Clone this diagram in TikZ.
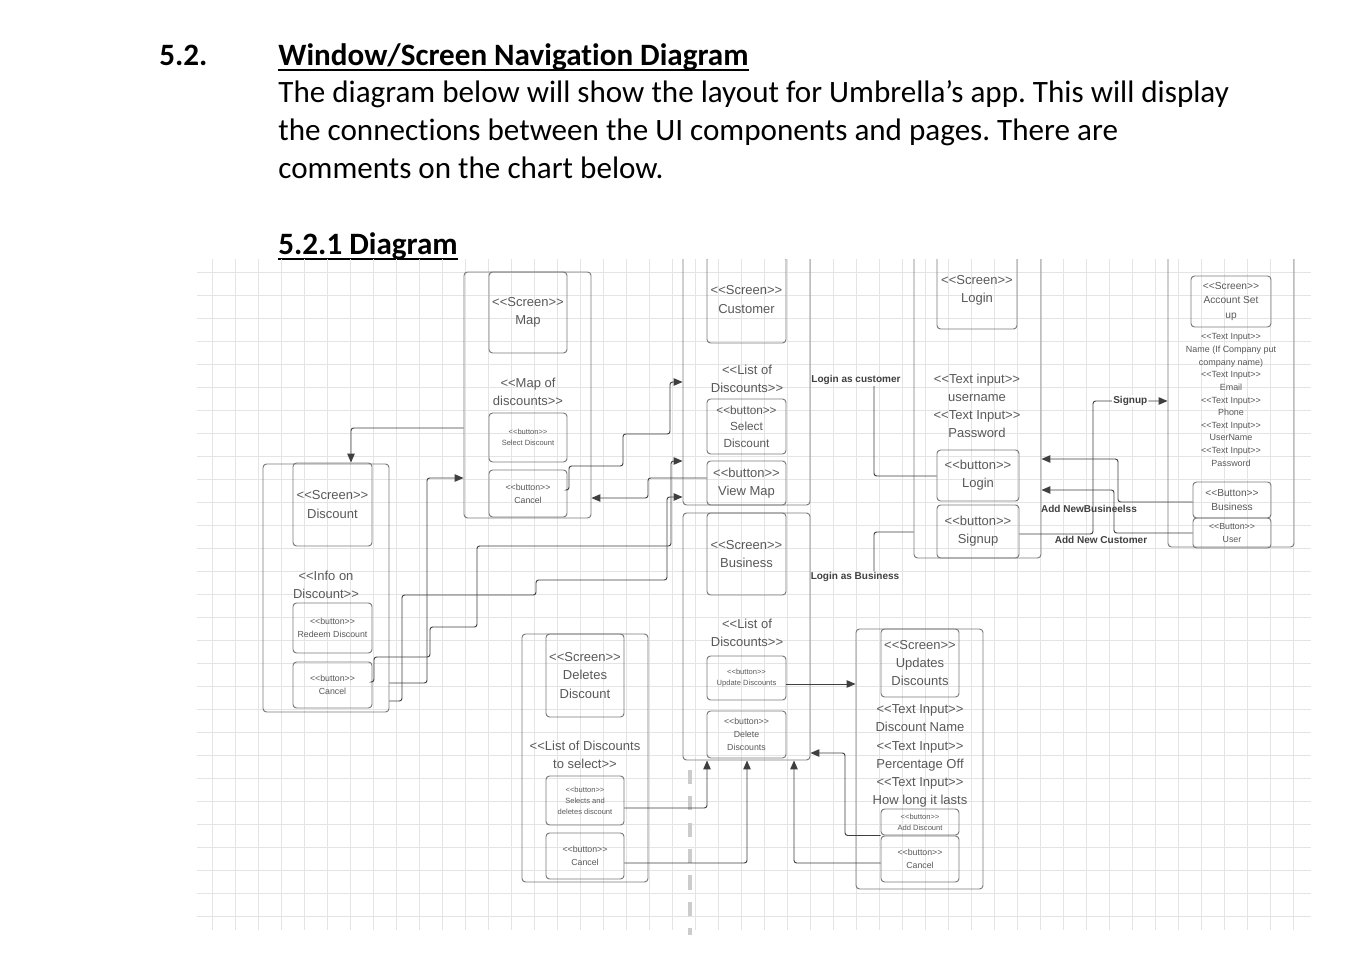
\documentclass[tikz,border=0pt]{standalone}
\usepackage{fontspec}
\setmainfont{Carlito}[Ligatures=NoCommon]
\setsansfont{Liberation Sans}[Ligatures=TeXOff]
\usepackage{tikz}
\usetikzlibrary{arrows.meta}
\definecolor{marco}{HTML}{7A7A7A}
\definecolor{textgris}{HTML}{595959}
\definecolor{lingris}{HTML}{3F3F3F}
\definecolor{lblgris}{HTML}{404040}
\definecolor{rejgris}{HTML}{E4E4E4}
\definecolor{guiagris}{HTML}{CCCCCC}
\newcommand{\tamN}{\fontsize{7.4}{10.3}\selectfont}
\newcommand{\tamM}{\fontsize{6.7}{9.3}\selectfont}
\newcommand{\tamA}{\fontsize{5.8}{8.3}\selectfont}
\newcommand{\tamL}{\fontsize{5.1}{7.2}\selectfont}
\newcommand{\tamS}{\fontsize{5.0}{7.3}\selectfont}
\newcommand{\tamT}{\fontsize{4.3}{6.2}\selectfont}
\frenchspacing

\begin{document}
\begin{tikzpicture}[
  x=0.2mm, y=-0.2mm,
  head/.style={font=\fontsize{17.7}{21.5}\selectfont, anchor=base west, inner sep=0pt},
  headb/.style={head, font=\bfseries\fontsize{17.7}{21.5}\selectfont},
  uline/.style={line width=1.1pt},
  frame/.style={draw=marco, line width=0.55pt, rounded corners=2pt, inner sep=0pt, minimum width=25.4mm},
  scr/.style={frame, align=center, text=textgris, font=\sffamily\tamN, minimum width=15.8mm},
  btn/.style={frame, align=center, text=textgris, minimum width=15.8mm},
  txt/.style={align=center, text=textgris, inner sep=0pt, font=\sffamily\tamN},
  lbl/.style={font=\sffamily\bfseries\fontsize{5.7}{7}\selectfont, text=lblgris, inner sep=0.6pt},
  arr/.style={-{Triangle[length=5pt,width=4.2pt]}, draw=lingris, line width=0.55pt, rounded corners=1.5pt},
  lin/.style={draw=lingris, line width=0.55pt, rounded corners=1.5pt},
  rejilla/.style={draw=rejgris, line width=0.5pt},
  guia/.style={draw=guiagris, line width=2pt, dash pattern=on 8pt off 7pt},
]
\useasboundingbox (0,0) rectangle (1358,960);
\fill[white] (0,0) rectangle (1358,960);

% --- Heading ---
\node[headb] (secnum) at (159,66) {5.2.};
\node[headb] (title) at (278,66) {Window/Screen Navigation Diagram};
\draw[uline] ([yshift=-2.4pt]title.base west) -- ([yshift=-2.4pt]title.base east);
\node[head] (body1) at (278,103) {The diagram below will show the layout for Umbrella’s app. This will display};
\node[head] (body2) at (278,141) {the connections between the UI components and pages. There are};
\node[head] (body3) at (278,179) {comments on the chart below.};
\node[headb] (subtitle) at (278,255) {5.2.1 Diagram};
\draw[uline] ([yshift=-2.4pt]subtitle.base west) -- ([yshift=-2.4pt]subtitle.base east);

\begin{scope}
\clip (197,260) rectangle (1311,935);

% --- Grid ---
\foreach \gx in {212,235,...,1293} \draw[rejilla] (\gx,258) -- (\gx,930);
\foreach \gy in {272,295,...,916} \draw[rejilla] (197,\gy) -- (1311,\gy);
\draw[guia] (690,770) -- (690,935);

% --- Discount screen ---
\node[frame, minimum width=25.2mm, minimum height=49.6mm] (discF) at (326,588) {};
\node[scr, minimum height=16.6mm] (discScr) at (332.5,504.5) {<<Screen>>\\Discount};
\node[txt] (discInfo) at (326,585) {<<Info on\\Discount>>};
\node[btn, font=\sffamily\tamS, minimum height=10mm] (discRedeem) at (332.5,628) {<<button>>\\Redeem Discount};
\node[btn, font=\sffamily\tamS, minimum height=9.2mm] (discCancel) at (332.5,685) {<<button>>\\Cancel};

% --- Map screen ---
\node[frame, minimum height=49.2mm] (mapF) at (527.5,395) {};
\node[scr, minimum width=15.6mm, minimum height=16.2mm] (mapScr) at (528,312.5) {<<Screen>>\\Map};
\node[txt] (mapTxt) at (528,392) {<<Map of\\discounts>>};
\node[btn, font=\sffamily\tamT, minimum width=15.6mm, minimum height=9.8mm] (mapSelect) at (528,437.5) {<<button>>\\Select Discount};
\node[btn, font=\sffamily\tamS, minimum width=15.6mm, minimum height=9.4mm] (mapCancel) at (528,493.5) {<<button>>\\Cancel};

% --- Customer screen ---
\node[frame, minimum height=53mm] (custF) at (746.5,372.5) {};
\node[scr, minimum height=17.4mm] (custScr) at (746.5,299.5) {<<Screen>>\\Customer};
\node[txt] (custTxt) at (747,379) {<<List of\\Discounts>>};
\node[btn, font=\sffamily\tamM, minimum height=11mm] (custSelect) at (746.5,426.5) {<<button>>\\Select\\Discount};
\node[btn, font=\sffamily\tamN, minimum height=8.8mm] (viewMap) at (746.5,483) {<<button>>\\View Map};

% --- Business screen ---
\node[frame, minimum height=49.4mm] (busF) at (746.5,636.5) {};
\node[scr, minimum height=16.4mm] (busScr) at (746.5,554) {<<Screen>>\\Business};
\node[txt] (busTxt) at (747,633) {<<List of\\Discounts>>};
\node[btn, font=\sffamily\tamT, minimum height=8.8mm] (updBtn) at (746.5,678) {<<button>>\\Update Discounts};
\node[btn, font=\sffamily\tamS, minimum height=9.4mm] (delBtn) at (746.5,734.5) {<<button>>\\Delete\\Discounts};

% --- Login screen ---
\node[frame, minimum height=63.6mm] (loginF) at (977.5,399) {};
\node[scr, minimum width=16mm, minimum height=15.4mm] (loginScr) at (977,290.5) {<<Screen>>\\Login};
\node[txt] (loginTxt) at (977,406) {<<Text input>>\\username\\<<Text Input>>\\Password};
\node[btn, font=\sffamily\tamN, minimum width=16.4mm, minimum height=10.2mm] (loginBtn) at (978,475.5) {<<button>>\\Login};
\node[btn, font=\sffamily\tamN, minimum width=16.4mm, minimum height=10.6mm] (signupBtn) at (978,531.5) {<<button>>\\Signup};

% --- Account set up screen ---
\node[frame, minimum width=25.2mm, minimum height=61.4mm] (acctF) at (1231,393.5) {};
\node[btn, font=\sffamily\tamA, minimum width=16mm, minimum height=10.2mm] (acctScr) at (1231,301.5) {<<Screen>>\\Account Set\\up};
\node[txt, font=\sffamily\tamL] (acctTxt) at (1231,400) {<<Text Input>>\\Name (If Company put\\company name)\\<<Text Input>>\\Email\\<<Text Input>>\\Phone\\<<Text Input>>\\UserName\\<<Text Input>>\\Password};
\node[btn, font=\sffamily\tamA, minimum width=15.6mm, minimum height=7.2mm] (acctBus) at (1232,500) {<<Button>>\\Business};
\node[btn, font=\sffamily\tamS, minimum width=15.6mm, minimum height=6mm] (acctUser) at (1232,533) {<<Button>>\\User};

% --- Deletes Discount screen ---
\node[frame, minimum width=25.2mm, minimum height=49.6mm] (delF) at (585,758) {};
\node[scr, minimum width=15.6mm, minimum height=16.6mm] (delScr) at (585,675.5) {<<Screen>>\\Deletes\\Discount};
\node[txt] (delTxt) at (585,755) {<<List of Discounts\\to select>>};
\node[btn, font=\sffamily\tamT, minimum width=15.6mm, minimum height=9.8mm] (delSel) at (585,800.5) {<<button>>\\Selects and\\deletes discount};
\node[btn, font=\sffamily\tamS, minimum width=15.6mm, minimum height=9.2mm] (delCancel) at (585,856) {<<button>>\\Cancel};

% --- Updates Discounts screen ---
\node[frame, minimum height=52mm] (updF) at (919.5,759) {};
\node[scr, minimum width=15.6mm, minimum height=13.6mm] (updScr) at (920,663) {<<Screen>>\\Updates\\Discounts};
\node[txt] (updTxt) at (920,756) {<<Text Input>>\\Discount Name\\<<Text Input>>\\Percentage Off\\<<Text Input>>\\How long it lasts};
\node[btn, font=\sffamily\tamT, minimum width=15.6mm, minimum height=5.2mm] (addDisc) at (920,822) {<<button>>\\Add Discount};
\node[btn, font=\sffamily\tamS, minimum width=15.6mm, minimum height=9.2mm] (updCancel) at (920,859) {<<button>>\\Cancel};

% --- Comments ---
\node[lbl] (lblCust) at (856,380) {Login as customer};
\node[lbl] (lblBus) at (855,577) {Login as Business};
\node[lbl] (lblNewBus) at (1089,509) {Add NewBusineelss};
\node[lbl] (lblNewCust) at (1101,540) {Add New Customer};

% --- Discount / Map links ---
\draw[arr] (mapF.west |- 0,428) -| (discScr.north -| 351,0);
\draw[arr] (discF.east |- 0,683) -- (427,683) |- (mapF.west |- 0,478);
\draw[arr] (discCancel.east |- 0,682) -| (374,657) -| (430,627) -| (477,546) -| (671,461) -- (custF.west |- 0,461);
\draw[arr] (discF.east |- 0,701) -| (402,595) -| (536,580) -| (667,497) -- (custF.west |- 0,497);

% --- Map / Customer links ---
\draw[arr] (mapCancel.east |- 0,490) -| (569,466) -| (623,434) -| (670,382) -- (custF.west |- 0,382);
\draw[arr] (viewMap.west |- 0,478) -| (648,498) -- (mapF.east |- 0,498);

% --- Login links ---
\draw[lin] (loginBtn.west |- 0,476) -| (lblCust.south -| 874,0);
\draw[lin] (loginF.west |- 0,532) -| (lblBus.north -| 874,0);
\draw[arr] (signupBtn.east |- 0,534) -| (1093,401) -- node[lbl, fill=white]{Signup} (acctF.west |- 0,401);
\draw[arr] (acctBus.west |- 0,502) -| (1118,459) -- (loginF.east |- 0,459);
\draw[arr] (acctUser.west |- 0,533) -| (1114,490) -- (loginF.east |- 0,490);

% --- Business links ---
\draw[arr] (updBtn.east |- 0,684) -- (updF.west |- 0,684);
\draw[arr] (delSel.east |- 0,808) -| (busF.south -| 707,0);
\draw[arr] (delCancel.east |- 0,863) -| (busF.south -| 747,0);
\draw[arr] (updCancel.west |- 0,863) -| (busF.south -| 794,0);
\draw[arr] (addDisc.south west) -| (845,753) -- (busF.east |- 0,753);
\end{scope}

\end{tikzpicture}
\end{document}
